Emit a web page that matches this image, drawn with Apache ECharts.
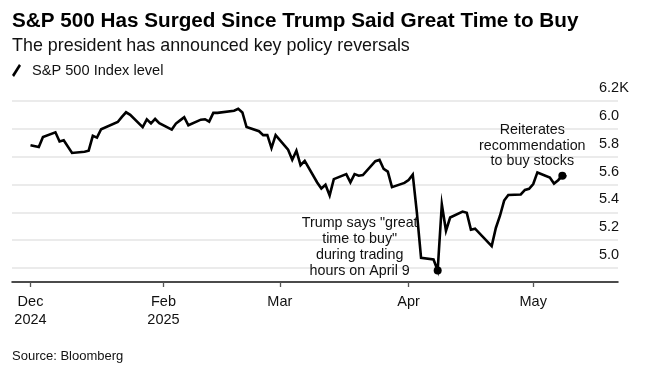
<!DOCTYPE html>
<html>
<head>
<meta charset="utf-8">
<script src="https://cdn.jsdelivr.net/npm/echarts@6/dist/echarts.min.js"></script>
<style>
html,body{margin:0;padding:0;background:#fff;}
#chart{width:645px;height:369px;}
</style>
</head>
<body>
<div id="chart"></div>
<script>
// ---- Data (S&P 500 closes) ----
const dates = ['2024-12-31','2025-01-02','2025-01-03','2025-01-06','2025-01-07','2025-01-08','2025-01-10','2025-01-13','2025-01-14','2025-01-15','2025-01-16','2025-01-17','2025-01-21','2025-01-22','2025-01-23','2025-01-24','2025-01-27','2025-01-28','2025-01-29','2025-01-30','2025-01-31','2025-02-03','2025-02-04','2025-02-05','2025-02-06','2025-02-07','2025-02-10','2025-02-11','2025-02-12','2025-02-13','2025-02-14','2025-02-18','2025-02-19','2025-02-20','2025-02-21','2025-02-24','2025-02-25','2025-02-26','2025-02-27','2025-02-28','2025-03-03','2025-03-04','2025-03-05','2025-03-06','2025-03-07','2025-03-10','2025-03-11','2025-03-12','2025-03-13','2025-03-14','2025-03-17','2025-03-18','2025-03-19','2025-03-20','2025-03-21','2025-03-24','2025-03-25','2025-03-26','2025-03-27','2025-03-28','2025-03-31','2025-04-01','2025-04-02','2025-04-03','2025-04-04','2025-04-07','2025-04-08','2025-04-09','2025-04-10','2025-04-11','2025-04-14','2025-04-15','2025-04-16','2025-04-17','2025-04-21','2025-04-22','2025-04-23','2025-04-24','2025-04-25','2025-04-28','2025-04-29','2025-04-30','2025-05-01','2025-05-02','2025-05-05','2025-05-06','2025-05-07','2025-05-08','2025-05-09'];
const spx = [5882,5869,5942,5975,5909,5918,5827,5836,5843,5950,5937,5997,6049,6086,6119,6101,6012,6068,6039,6071,6041,5995,6038,6061,6084,6026,6066,6069,6052,6115,6115,6130,6144,6118,6013,5983,5955,5956,5862,5955,5850,5778,5843,5739,5770,5615,5572,5599,5522,5639,5675,5615,5675,5663,5668,5768,5777,5712,5693,5581,5612,5633,5671,5397,5074,5062,4983,5457,5268,5363,5406,5397,5276,5283,5158,5288,5376,5485,5525,5529,5561,5569,5604,5687,5650,5607,5631,5664,5660];

const xTickDates = ['2024-12-31','2025-02-01','2025-03-01','2025-04-01','2025-05-01'];
const xTickLabels = ['Dec\n2024','Feb\n2025','Mar','Apr','May'];
const yTicks = [5000,5200,5400,5600,5800,6000,6200];
const yMin = 4900, yMax = 6200;

const annotations = [
  {date:'2025-04-08', text:'Trump says "great\ntime to buy"\nduring trading\nhours on April 9'},
  {date:'2025-05-08', text:'Reiterates\nrecommendation\nto buy stocks'}
];

// ---- Helpers ----
const origin = Date.parse('2024-12-31T00:00:00Z');
const dayOf = d => Math.round((Date.parse(d + 'T00:00:00Z') - origin) / 86400000);
const seriesData = dates.map((d, i) => [dayOf(d), spx[i]]);
const xTickVals = xTickDates.map(dayOf);
const xLabelMap = {};
xTickVals.forEach((v, i) => { xLabelMap[v] = xTickLabels[i]; });

const FONT = '"Liberation Sans", Arial, Helvetica, sans-serif';

const annoStyles = [
  {offset:[-78,-23], lineHeight:16},
  {offset:[-30,-30], lineHeight:15.5}
];

const chart = echarts.init(document.getElementById('chart'), null, {renderer:'canvas'});
chart.setOption({
  backgroundColor:'#ffffff',
  animation:false,
  textStyle:{fontFamily:FONT},
  title:[
    {text:'S&P 500 Has Surged Since Trump Said Great Time to Buy', left:12, top:9, padding:0,
     textStyle:{fontFamily:FONT, fontSize:20.7, fontWeight:'bold', color:'#000', lineHeight:24}},
    {text:'The president has announced key policy reversals', left:12, top:36, padding:0,
     textStyle:{fontFamily:FONT, fontSize:17.9, fontWeight:'normal', color:'#111', lineHeight:20}},
    {text:'Source: Bloomberg', left:12, top:349, padding:0,
     textStyle:{fontFamily:FONT, fontSize:13, fontWeight:'normal', color:'#111', lineHeight:15}}
  ],
  legend:{
    show:true, left:12, top:63, padding:0,
    itemWidth:9, itemHeight:13,
    icon:'path://M0,11 L7,0 L9,1.8 L2,13 Z',
    textStyle:{fontFamily:FONT, fontSize:14.6, color:'#111', padding:[0,0,0,6]},
    data:[{name:'S&P 500 Index level', itemStyle:{color:'#000', borderWidth:0}}]
  },
  grid:{left:12, right:27, top:101, bottom:87, containLabel:false},
  xAxis:{
    type:'value', min:-4.45, max:141.4,
    axisLine:{show:true, lineStyle:{color:'#111', width:1.5}},
    axisTick:{show:true, customValues:xTickVals, length:5, lineStyle:{color:'#555', width:1.3}},
    axisLabel:{show:true, customValues:xTickVals, margin:11, fontFamily:FONT, fontSize:14.5,
      color:'#111', lineHeight:18, align:'center',
      formatter: v => xLabelMap[Math.round(v)] || ''},
    splitLine:{show:false}
  },
  yAxis:{
    type:'value', position:'right', min:yMin, max:yMax,
    axisLine:{show:false}, axisTick:{show:false},
    splitLine:{show:false},
    axisLabel:{show:true, customValues:yTicks, inside:false, margin:-19, align:'left',
      verticalAlign:'bottom', lineHeight:14, padding:[0,0,6,0],
      fontFamily:FONT, fontSize:14.5, color:'#111',
      formatter: v => (v/1000).toFixed(1) + (v === yMax ? 'K' : '')}
  },
  series:[
    {
      type:'line', name:'grid', data:[], z:1, silent:true,
      markLine:{silent:true, symbol:'none', animation:false, z:1,
        label:{show:false},
        lineStyle:{color:'#e4e4e4', width:1.5, type:'solid'},
        emphasis:{disabled:true},
        data: yTicks.map(v => ({yAxis:v}))}
    },
    {
      type:'line', name:'S&P 500 Index level', data:seriesData, z:10,
      showSymbol:false, symbol:'none',
      lineStyle:{color:'#000', width:2.6, join:'miter'},
      itemStyle:{color:'#000'},
      markPoint:{
        symbol:'circle', symbolSize:8, silent:true, z:11,
        itemStyle:{color:'#000'},
        data: annotations.map((a, i) => {
          const idx = dates.indexOf(a.date);
          return {
            coord:[dayOf(a.date), spx[idx]],
            label:{show:true, formatter:a.text, position:'inside',
              offset:annoStyles[i].offset, align:'center', verticalAlign:'middle',
              fontFamily:FONT, fontSize:14.3, color:'#111',
              lineHeight:annoStyles[i].lineHeight}
          };
        })
      }
    }
  ]
});
</script>
</body>
</html>
